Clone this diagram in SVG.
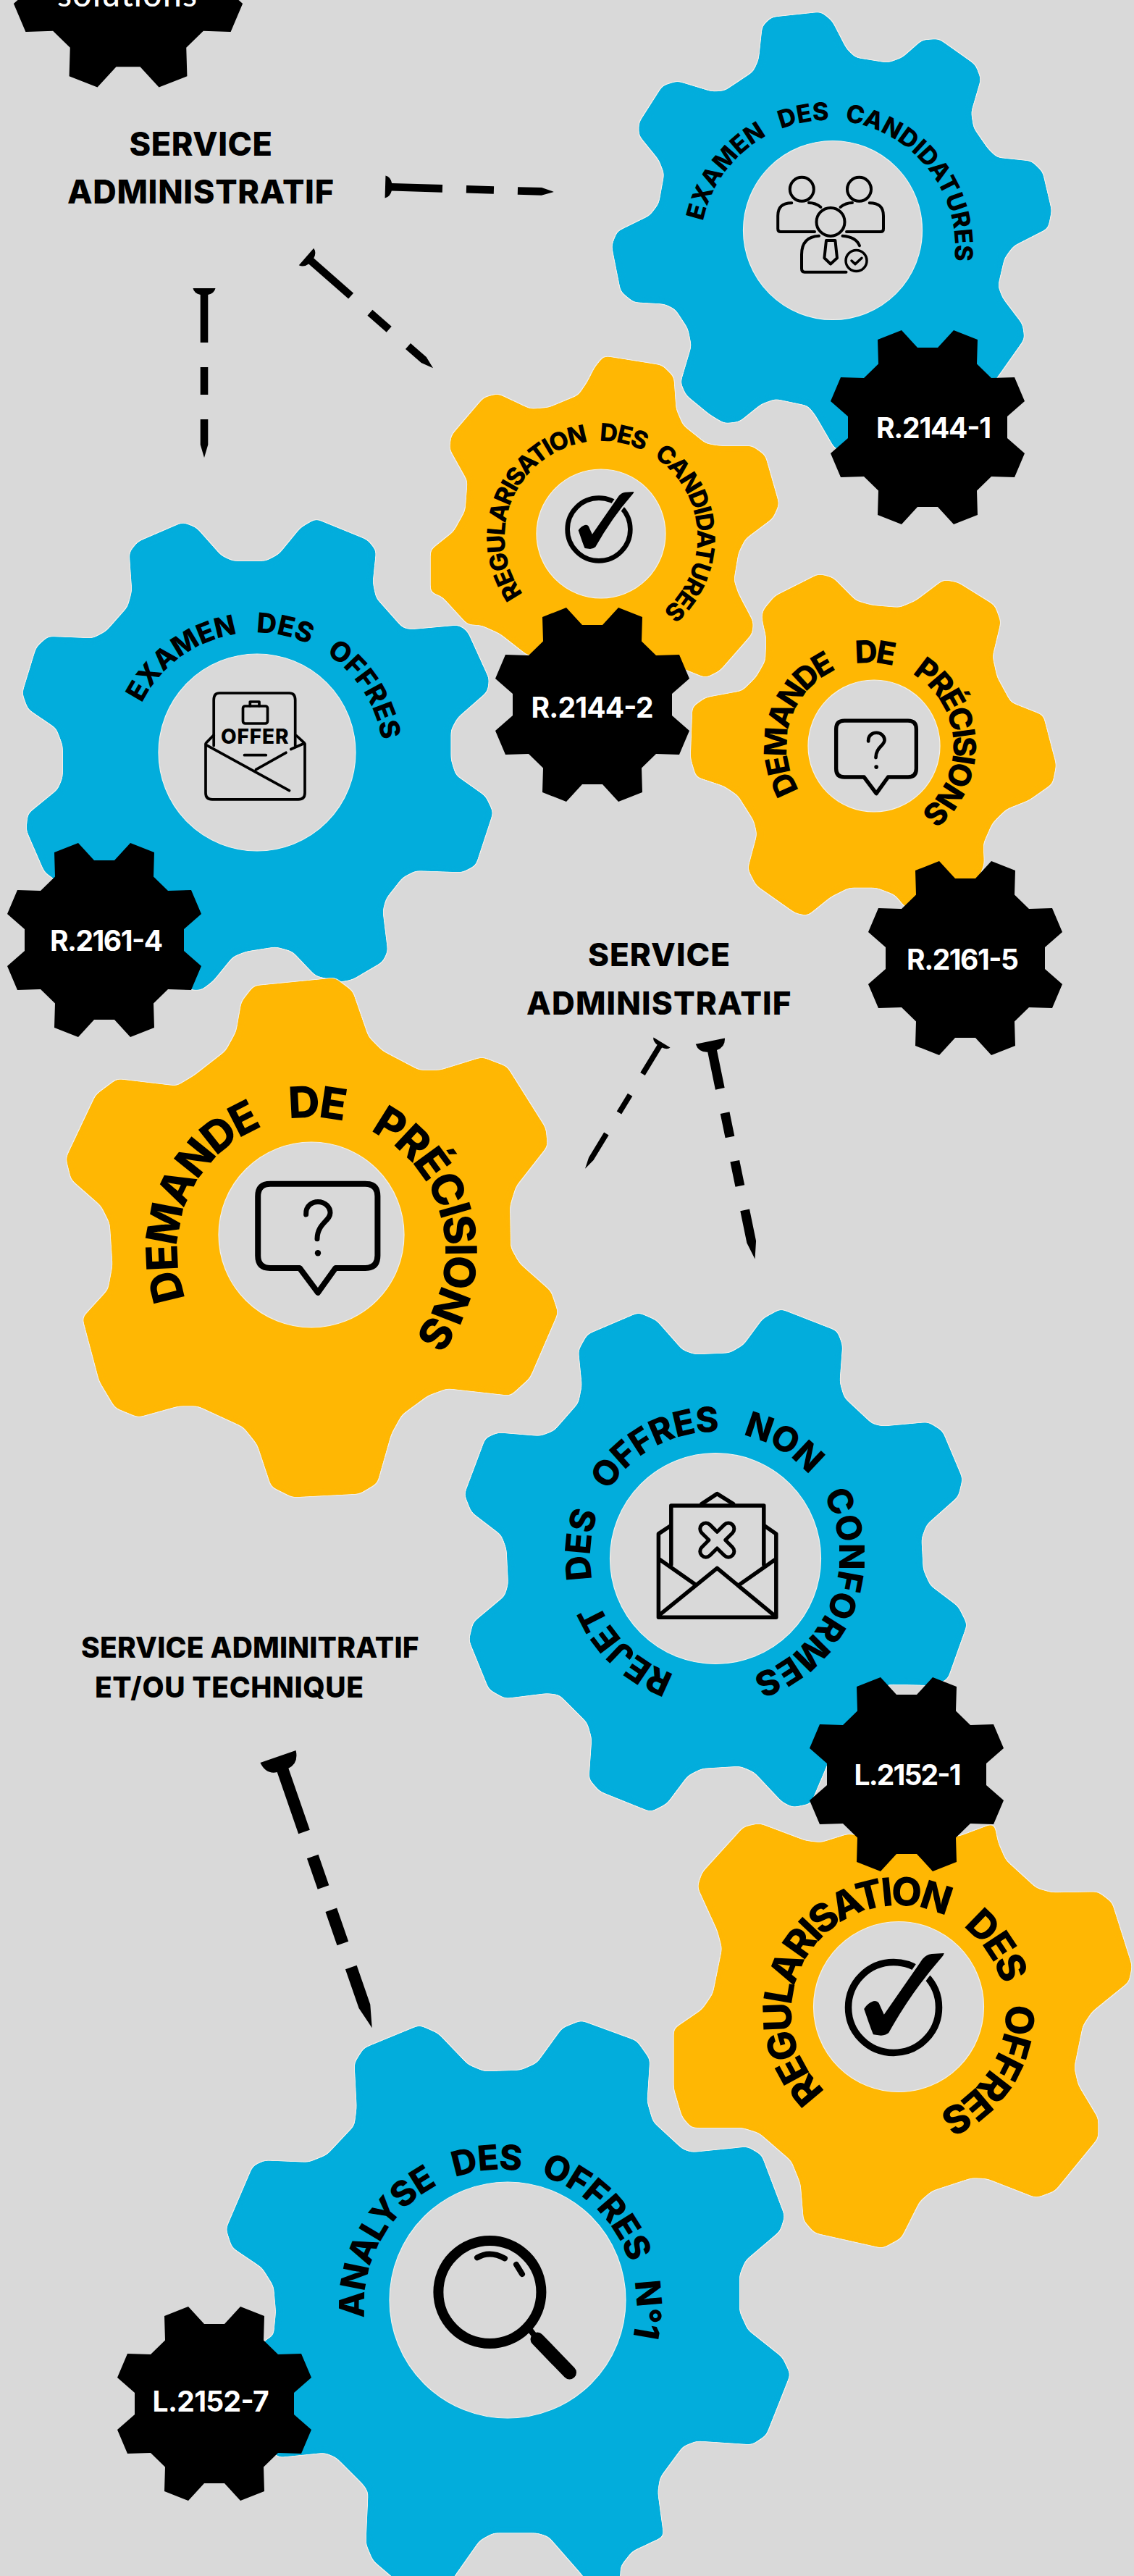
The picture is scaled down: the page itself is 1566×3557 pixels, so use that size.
<svg xmlns="http://www.w3.org/2000/svg" width="1566" height="3557" viewBox="0 0 1566 3557">
<style>
.blue{fill:#02addc}.yellow{fill:#ffb703}
.hole{fill:#d9d9d9;stroke:#f3f1ec;stroke-width:1.2}
.arc{font-family:"Inter","Lato",sans-serif;font-weight:800;fill:#000}
.lbl{font-family:"Inter","Lato",sans-serif;font-weight:800;fill:#000}
.ref{font-family:"Inter","Lato",sans-serif;font-weight:700;fill:#fff;font-size:39px}
.ln{fill:none;stroke:#000;stroke-linecap:round;stroke-linejoin:round}
.nail{fill:#000}
</style>
<defs>
<filter id="soft" x="-6%" y="-6%" width="112%" height="112%" color-interpolation-filters="sRGB">
<feGaussianBlur stdDeviation="4" result="b"/>
<feColorMatrix in="b" type="matrix" values="1 0 0 0 0 0 1 0 0 0 0 0 1 0 0 0 0 0 16 -7" result="g"/>
<feMorphology in="g" operator="dilate" radius="1" result="d"/>
<feFlood flood-color="#f6f3ec" flood-opacity=".8"/>
<feComposite in2="d" operator="in" result="ring"/>
<feMerge><feMergeNode in="ring"/><feMergeNode in="g"/></feMerge>
</filter>
<polygon id="cog" points="-36,-134 -14,-110 14,-110 36,-134 69,-121 68,-87.5 88,-68 120,-69 134,-36 110,-15 110,15 134,36 120,69 88,68 68,87.5 69,121 36,134 14,110 -14,110 -36,134 -69,121 -68,87.5 -88,68 -120,69 -134,36 -110,15 -110,-15 -134,-36 -120,-69 -88,-68 -68,-87.5 -69,-121"/>
<path id="r115" d="M0,-115A115,115 0 1 1 0,115A115,115 0 1 1 0,-115"/>
<path id="r133" d="M0,-133A133,133 0 1 1 0,133A133,133 0 1 1 0,-133"/>
<path id="r148" d="M0,-148A148,148 0 1 1 0,148A148,148 0 1 1 0,-148"/>
<path id="r176" d="M0,-176A176,176 0 1 1 0,176A176,176 0 1 1 0,-176"/>
<path id="r172" d="M0,-172A172,172 0 1 1 0,172A172,172 0 1 1 0,-172"/>
<path id="r185" d="M0,-185A185,185 0 1 1 0,185A185,185 0 1 1 0,-185"/>
<path id="r188" d="M0,-188A188,188 0 1 1 0,188A188,188 0 1 1 0,-188"/>
<g id="check">
<circle class="ln" r="62.5" stroke-width="9.5"/>
<path d="M-40.8,1.9Q-36,-6 -28,-8.7Q-23,-10 -20.4,-6.3L-13.2,9.7L40,-67Q45,-73 52.7,-74L69.7,-75Q69,-72 67,-70Q25,-22 -6.8,35Q-10,38 -17.4,38.8L-28,37.3Q-30,33 -34.4,20.4Z" fill="#000" stroke="#d9d9d9" stroke-width="7" paint-order="stroke"/>
</g>
<g id="ask">
<path class="ln" stroke-width="8" d="M-25,120.2H-65.6Q-82.6,120.2 -82.6,103V21Q-82.6,3.9 -65.6,3.9H65.6Q82.6,3.9 82.6,21V103Q82.6,120.2 65.6,120.2H24.5L0.2,154L-25,120.2Z"/>
<path class="ln" stroke-width="7" d="M-16.2,46.2C-16.8,33.2 -6.8,28.7 0.2,28.7C10.2,28.7 17.2,36 17.2,44C17.2,55 -0.8,59 -0.8,80"/>
<circle cx="0.2" cy="99.4" r="4.2" fill="#000"/>
</g>
</defs>
<rect width="1566" height="3557" fill="#d9d9d9"/>

<g id="node-top"><use href="#cog" transform="translate(177,-37.5) scale(1.18)"/><text x="79" y="9" font-family="Lato,sans-serif" font-weight="500" font-size="46" fill="#fff" textLength="193">solutions</text></g>

<g id="label-service-1"><text class="lbl" font-size="45" x="178.6" y="215" textLength="197.4">SERVICE</text><text class="lbl" font-size="45" x="93" y="281" textLength="368">ADMINISTRATIF</text></g>
<g id="label-service-2"><text class="lbl" font-size="44" x="812" y="1333.7" textLength="196">SERVICE</text><text class="lbl" font-size="44" x="727" y="1400.7" textLength="365.5">ADMINISTRATIF</text></g>
<g id="label-service-3"><text class="lbl" font-size="39" x="112" y="2288.6" textLength="466.6">SERVICE ADMINITRATIF</text><text class="lbl" font-size="39" x="131" y="2344" textLength="371">ET/OU TECHNIQUE</text></g>

<g id="connectors">
<path class="nail" transform="translate(532,258) rotate(1.7)" d="M0,-15.5Q7,-14 9,-5.3L79,-5.3V5.3L9,5.3Q7,14 0,15.5ZM112,-5.3H150V5.3H112ZM183,-5.3H216L233,0L216,5.3H183Z"/>
<path class="nail" transform="translate(282,398) rotate(90)" d="M0,-15.5Q7,-14 9,-5.3L75,-5.3V5.3L9,5.3Q7,14 0,15.5ZM109,-5.3H147V5.3H109ZM181,-5.3H216L234,0L216,5.3H181Z"/>
<path class="nail" transform="translate(423,354.5) rotate(41.3)" d="M0,-15.5Q7,-14 9,-5.3L82,-5.3V5.3L9,5.3Q7,14 0,15.5ZM117,-5.3H152V5.3H117ZM187,-5.3H216L233,0L216,5.3H187Z"/>
<path class="nail" transform="translate(914,1439.5) rotate(121.3)" d="M0,-13.5Q5,-12 6,-3.8L51,-3.8V3.8L6,3.8Q5,12 0,13.5ZM84.5,-3.8H113.6V3.8H84.5ZM147.5,-3.8H188L204,0L188,3.8H147.5Z"/>
<path class="nail" transform="translate(980.8,1437.7) rotate(78.4)" d="M0,-20.5Q12,-19 14,-6.5L67,-6.5V6.5L14,6.5Q12,19 0,20.5ZM101,-6.5H135V6.5H101ZM169,-6.5H204V6.5H169ZM238,-6.5H283L307,0L283,6.5H238Z"/>
<path class="nail" transform="translate(384,2425.5) rotate(70.9)" d="M0,-26Q18,-24 20,-8.3L110,-8.3V8.3L20,8.3Q18,24 0,26ZM146,-8.3H191V8.3H146ZM224,-8.3H273V8.3H224ZM308,-8.3H365L396.5,0L365,8.3H308Z"/>
</g>

<g id="gear-candidatures">
<g filter="url(#soft)"><polygon class="blue" transform="translate(780,0) scale(.5013,.4847)" points="545,75 570,50 705,35 735,60 775,140 800,165 890,180 930,165 985,115 1030,112 1130,185 1145,225 1118,320 1125,365 1165,425 1190,450 1285,460 1315,490 1340,600 1330,650 1235,700 1210,735 1192,815 1205,850 1260,925 1265,965 1190,1075 1100,1200 900,1300 745,1278 690,1180 670,1155 580,1135 540,1150 480,1200 440,1205 400,1180 335,1125 320,1090 350,985 340,935 305,880 275,865 190,860 155,830 130,700 145,660 235,615 260,580 275,495 260,455 205,385 205,350 270,245 310,232 405,262 440,260 520,205 535,170"/></g>
<circle class="hole" cx="1150" cy="318" r="123.5"/>
<g class="ln" stroke-width="4">
<circle cx="1107.3" cy="261.3" r="16.5"/><circle cx="1186.5" cy="261.3" r="16.5"/><circle cx="1147" cy="306.4" r="19.5"/>
<path d="M1093.3,280.2Q1074.2,280 1074.2,298V316Q1074.2,320 1078,320H1125M1200.7,280.2Q1220,280 1220,298V316Q1220,320 1216,320H1169M1117,280Q1126,280 1133.4,286M1177,280Q1168,280 1160.6,286"/>
<path d="M1131,325.8Q1107,327 1107,351.5V371Q1107,375.7 1111,375.7H1168.5M1163.5,325.8Q1182,327 1187,339.3"/>
<path d="M1141,332L1138.4,356.3L1147,364.5L1156,356.3L1153.4,332Z"/>
<circle cx="1182.5" cy="360" r="14.5" stroke-width="3.5"/>
<path d="M1176,360L1181,364.6L1190,356.3" stroke-width="3.5"/>
</g>
<g transform="translate(1143,342) rotate(-78)"><text class="arc" font-size="34" word-spacing="14"><textPath href="#r176" textLength="534">EXAMEN DES CANDIDATURES</textPath></text></g>
</g>

<g id="gear-regularisation-candidatures">
<g filter="url(#soft)"><polygon class="yellow" transform="translate(560,460) scale(.6378)" points="410,75 430,50 555,70 580,95 585,165 600,200 650,240 680,245 750,245 778,265 808,370 795,400 735,445 720,475 710,535 720,565 752,625 750,650 680,730 650,745 600,725 560,700 300,700 265,697 205,650 165,632 135,630 80,570 55,560 55,470 105,430 130,385 135,320 96,250 100,222 170,140 200,132 270,165 310,162 375,135 395,105"/></g>
<circle class="hole" cx="830" cy="737" r="89"/>
<use href="#check" transform="translate(827,731) scale(.694)"/>
<g transform="translate(830,742) rotate(-126)"><text class="arc" font-size="34" word-spacing="12"><textPath href="#r133" textLength="617">REGULARISATION DES CANDIDATURES</textPath></text></g>
</g>

<g id="gear-examen-offres">
<g filter="url(#soft)"><polygon class="blue" transform="translate(0,700) scale(.4591,.4847)" points="390,130 415,100 550,45 590,60 665,140 700,155 800,155 840,135 905,60 950,35 1105,95 1130,125 1120,215 1130,260 1210,345 1235,350 1380,338 1405,355 1470,490 1465,525 1375,600 1355,635 1355,720 1370,765 1460,825 1482,870 1430,1020 1390,1040 1250,1035 1210,1055 1160,1115 1150,1150 1165,1265 1150,1295 1060,1345 1025,1352 950,1335 880,1265 830,1252 740,1265 700,1280 640,1350 605,1375 575,1375 300,1200 165,1060 135,1040 80,920 85,875 175,805 190,770 190,680 170,630 85,575 68,530 110,400 145,370 280,375 320,355 385,285 398,240"/></g>
<circle class="hole" cx="355" cy="1039" r="136"/>
<g class="ln" stroke-width="3.7">
<path d="M295.2,1029.6V966.6Q295.2,957 303,957H399.5Q407.7,957 407.7,966.6V1029.6"/>
<path d="M284,1027V1095Q284,1103.8 293,1103.8H412Q421,1103.8 421,1095V1027"/>
<path d="M284.7,1028.6L399.5,1091.7M353.5,1062.6L394.9,1039.3M401.8,1034.5L418.7,1027M284.7,1025.7L295.2,1015M409.6,1016L420,1025.7"/>
<rect x="335.5" y="975" width="34" height="24" rx="3"/>
<path d="M345.3,974.8V969H358V974.8M337.5,1042.7H367.3"/>
</g>
<text class="lbl" font-size="28" x="305" y="1027" textLength="93.5">OFFER</text>
<g transform="translate(353.4,1049.5) rotate(-63.5)"><text class="arc" font-size="38" word-spacing="18"><textPath href="#r176" textLength="444">EXAMEN DES OFFRES</textPath></text></g>
</g>

<g id="gear-demande-small">
<g filter="url(#soft)"><polygon class="yellow" transform="translate(560,460) scale(.6378)" points="775,600 800,570 895,522 925,530 975,580 1010,590 1070,595 1105,580 1165,535 1195,540 1275,590 1288,625 1270,700 1280,745 1310,800 1380,828 1408,935 1400,975 1350,1010 1300,1030 1270,1060 1250,1105 1252,1150 1240,1180 1085,1245 1060,1215 1020,1200 960,1200 920,1220 870,1260 845,1255 760,1195 742,1160 762,1085 755,1055 720,1000 690,980 630,960 618,920 622,810 650,790 730,775 760,745 780,710 782,660 772,615"/></g>
<circle class="hole" cx="1207" cy="1030" r="91"/>
<use href="#ask" transform="translate(1210,992.5) scale(.67)"/>
<g transform="translate(1201.5,1030) rotate(-122)"><text class="arc" font-size="43" word-spacing="26"><textPath href="#r115" textLength="531">DEMANDE DE PRÉCISIONS</textPath></text></g>
</g>

<g id="gear-demande-large">
<g filter="url(#soft)"><polygon class="yellow" transform="translate(60,1340) scale(.4847)" points="565,90 600,45 830,22 880,60 925,190 965,230 1070,285 1130,285 1250,248 1320,275 1430,450 1435,500 1345,615 1328,670 1330,790 1355,835 1445,915 1465,975 1385,1160 1330,1210 1150,1190 1095,1210 1020,1265 990,1320 950,1460 900,1490 710,1500 650,1470 610,1350 570,1300 440,1240 385,1240 270,1272 205,1245 160,1170 112,990 185,910 198,840 190,720 165,670 80,595 65,535 150,355 210,310 380,330 430,300 520,230 550,175"/></g>
<circle class="hole" cx="430" cy="1705" r="128"/>
<use href="#ask" transform="translate(438.8,1630.8)"/>
<g transform="translate(430,1728) rotate(-110.5)"><text class="arc" font-size="60" word-spacing="32"><textPath href="#r185" textLength="775">DEMANDE DE PRÉCISIONS</textPath></text></g>
</g>

<g id="gear-rejet">
<g filter="url(#soft)"><polygon class="blue" transform="translate(620,1780) scale(.4847)" points="370,175 395,130 540,68 590,90 665,175 700,187 800,183 840,160 895,85 945,58 1105,120 1120,160 1112,265 1125,310 1205,385 1235,392 1365,380 1405,405 1462,540 1450,590 1360,670 1345,710 1350,800 1370,845 1450,905 1475,955 1420,1110 1385,1128 1250,1125 1180,1180 1100,1300 1030,1465 980,1475 950,1460 870,1375 830,1358 720,1365 680,1385 620,1465 575,1488 430,1430 400,1395 408,1280 395,1235 315,1155 280,1150 160,1165 115,1140 58,1000 70,950 160,875 170,840 165,740 150,700 65,635 45,585 105,425 140,410 260,420 300,405 370,325 380,275"/></g>
<circle class="hole" cx="988" cy="2152" r="145.5"/>
<g class="ln" stroke-width="5.5">
<path d="M925.4,2107.2L909.4,2117.9V2233.2H1071.8V2117.9L1056.3,2107.2"/>
<path d="M926.8,2160.5V2079H1054.8V2160.5"/>
<path d="M969,2076.6L990.3,2062.6L1012.6,2076.6"/>
<path d="M910.8,2153.2L959.3,2187.2M1070.8,2153.2L1022.3,2187.2M910.8,2229.8L990.3,2165.4L1068.4,2229.8"/>
<path stroke-width="5" transform="translate(990.3,2126.6) rotate(45)" d="M-8,-8V-22A8,8 0 0 1 8,-22V-8H22A8,8 0 0 1 22,8H8V22A8,8 0 0 1 -8,22V8H-22A8,8 0 0 1 -22,-8Z"/>
</g>
<g transform="translate(987,2149) rotate(-161)"><text class="arc" font-size="48" word-spacing="24"><textPath href="#r172" textLength="970">REJET DES OFFRES NON CONFORMES</textPath></text></g>
</g>

<g id="gear-regularisation-offres">
<g filter="url(#soft)"><polygon class="yellow" transform="translate(900,2380) scale(.4248,.4847)" points="150,465 165,425 300,295 350,285 500,335 550,340 640,315 800,340 1000,322 1112,285 1125,340 1150,390 1250,470 1300,482 1450,480 1495,510 1560,690 1550,735 1430,820 1400,860 1372,980 1385,1030 1450,1125 1450,1180 1310,1330 1250,1350 1090,1295 1040,1293 910,1330 870,1360 810,1465 750,1493 530,1450 495,1415 485,1310 455,1245 350,1165 295,1150 130,1150 100,1120 73,1040 73,870 165,815 200,770 230,640 215,590"/></g>
<circle class="hole" cx="1241" cy="2771" r="117.5"/>
<use href="#check" transform="translate(1234,2772)"/>
<g transform="translate(1241,2779) rotate(-137)"><text class="arc" font-size="54" word-spacing="24"><textPath href="#r148" textLength="762">REGULARISATION DES OFFRES</textPath></text></g>
</g>

<g id="gear-analyse">
<g filter="url(#soft)"><polygon class="blue" transform="translate(120,2760) scale(.6378,.5083)" points="580,175 600,135 720,73 760,95 825,180 860,198 940,195 975,175 1030,80 1070,60 1190,115 1218,165 1212,280 1225,335 1290,410 1310,418 1430,403 1460,425 1510,590 1500,630 1425,710 1412,750 1412,850 1430,900 1505,975 1522,1020 1470,1185 1440,1210 1320,1200 1290,1215 1240,1300 1235,1340 1248,1460 1180,1500 1155,1540 1150,1640 1120,1640 1070,1560 1000,1460 975,1450 880,1450 850,1470 795,1568 760,1640 690,1600 620,1525 605,1480 610,1340 600,1320 540,1245 515,1232 415,1245 300,1100 385,930 405,915 410,850 405,780 380,730 315,675 302,625 360,455 385,440 480,445 520,425 580,345 585,295"/></g>
<circle class="hole" cx="701" cy="3176" r="163"/>
<circle class="ln" cx="676.4" cy="3165" r="71" stroke-width="14"/>
<path class="ln" stroke-width="19" d="M742,3230L786.5,3276"/>
<path class="ln" stroke-width="8" d="M728,3212L742,3230"/>
<path class="ln" stroke-width="8" d="M659,3117.4Q676,3107 697,3118.4M713,3127L721,3140"/>
<g transform="translate(691,3184) rotate(-95)"><text class="arc" font-size="48" word-spacing="18"><textPath href="#r188" textLength="650">ANALYSE DES OFFRES N°1</textPath></text></g>
</g>

<g id="ref-r2144-1"><use href="#cog" x="1281" y="590"/><text class="ref" x="1210" y="605" textLength="159">R.2144-1</text></g>
<g id="ref-r2144-2"><use href="#cog" x="818" y="973"/><text class="ref" x="733.5" y="990.5" textLength="169">R.2144-2</text></g>
<g id="ref-r2161-5"><use href="#cog" x="1333" y="1323"/><text class="ref" x="1252" y="1339" textLength="155">R.2161-5</text></g>
<g id="ref-r2161-4"><use href="#cog" x="144" y="1298"/><text class="ref" x="69" y="1313" textLength="156">R.2161-4</text></g>
<g id="ref-l2152-1"><use href="#cog" x="1252" y="2450"/><text class="ref" x="1179.5" y="2465" textLength="148">L.2152-1</text></g>
<g id="ref-l2152-7"><use href="#cog" x="296" y="3319"/><text class="ref" x="210.6" y="3330.4" textLength="161">L.2152-7</text></g>
</svg>
